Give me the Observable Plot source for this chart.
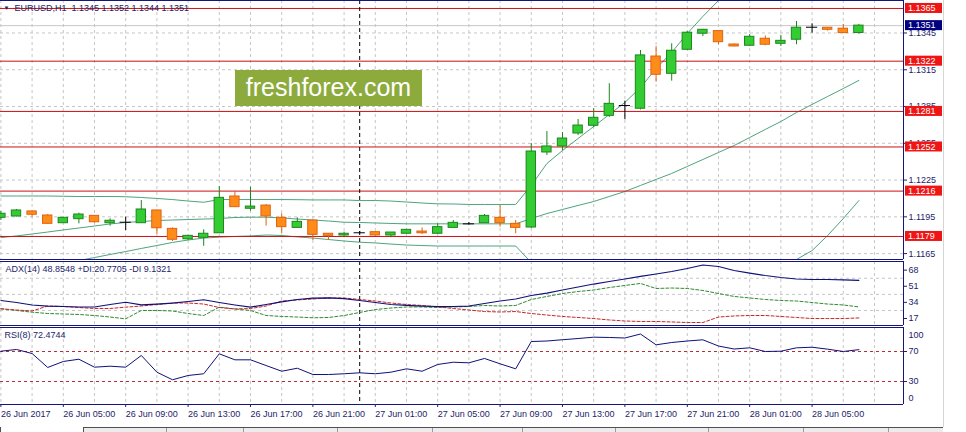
<!DOCTYPE html>
<html><head><meta charset="utf-8">
<script src="https://cdn.jsdelivr.net/npm/d3@7"></script>
<script src="https://cdn.jsdelivr.net/npm/@observablehq/plot@0.6"></script>
<style>
html,body{margin:0;padding:0;background:#fff;}
#wrap{position:relative;width:966px;height:432px;overflow:hidden;background:#fff;font-family:"Liberation Sans",Arial,sans-serif;}
.pane{position:absolute;left:0;width:966px;}
#logo{position:absolute;left:235px;top:70px;width:187px;height:36px;background:#8cab3c;color:#fff;font-size:25px;line-height:35px;text-align:center;font-family:"Liberation Sans",Arial,sans-serif;z-index:5;}
#vsep{position:absolute;left:943px;top:0;width:1px;height:427px;background:#d6d6d6;}
#tabs{position:absolute;left:83px;top:427px;width:860px;height:5px;border-top:1px solid #505050;background:#ececec;}
#tab0{position:absolute;left:0;top:427px;width:82px;height:6px;background:#fff;border-left:1px solid #505050;border-right:1px solid #505050;}
.tsep{position:absolute;top:428px;width:1px;height:4px;background:#9a9a9a;}
</style></head>
<body><div id="wrap"></div>
<script>
// ---- data ----
const xTickLabels = ["26 Jun 2017","26 Jun 05:00","26 Jun 09:00","26 Jun 13:00","26 Jun 17:00","26 Jun 21:00","27 Jun 01:00","27 Jun 05:00","27 Jun 09:00","27 Jun 13:00","27 Jun 17:00","27 Jun 21:00","28 Jun 01:00","28 Jun 05:00"];
const xTickIdx = [0,4,8,12,16,20,24,28,32,36,40,44,48,52];
const gridIdx = [0,2,4,6,8,10,12,14,16,18,20,22,24,26,28,30,32,34,36,38,40,42,44,46,48,50,52,54,56];
const priceTicks = [1.1345,1.1315,1.1285,1.1255,1.1225,1.1195,1.1165];
const levels = [1.1365,1.1322,1.1281,1.1252,1.1216,1.1179];
const bid = 1.1351;
const markerIdx = [23];

const open = [1.11942,1.11953,1.11994,1.11961,1.11898,1.11931,1.11958,1.11898,1.11906,1.11898,
1.12002,1.11852,1.11767,1.11779,1.11816,1.12116,1.12016,1.12042,1.11942,1.11860,
1.11920,1.11812,1.11798,1.11820,1.11825,1.11798,1.11812,1.11830,1.11812,1.11860,
1.11893,1.11898,1.11942,1.11893,1.11863,1.12475,1.12524,1.12630,1.12693,1.12774,
1.12858,1.12832,1.13258,1.13117,1.13313,1.13444,1.13465,1.13356,1.13346,1.13403,
1.13362,1.13395,1.13497,1.13493,1.13485,1.1345];
const high = [1.11994,1.12010,1.11998,1.11969,1.11945,1.11980,1.11961,1.11934,1.11947,1.12083,
1.12006,1.11860,1.11798,1.11844,1.12198,1.12157,1.12192,1.12051,1.11975,1.11942,
1.11924,1.11814,1.11825,1.11830,1.11827,1.11822,1.11847,1.11860,1.11893,1.11920,
1.11904,1.11969,1.12042,1.11920,1.12548,1.12646,1.12638,1.12744,1.12832,1.13036,
1.12894,1.13307,1.13340,1.13362,1.13462,1.13479,1.13470,1.13360,1.13438,1.13426,
1.13430,1.13544,1.13525,1.13495,1.13519,1.1352];
const low = [1.11920,1.11949,1.11947,1.11892,1.11896,1.11893,1.11898,1.11874,1.11838,1.11896,
1.11806,1.11749,1.11757,1.11710,1.11814,1.12026,1.11996,1.11874,1.11812,1.11859,
1.11757,1.11757,1.11779,1.11810,1.11794,1.11779,1.11810,1.11806,1.11806,1.11859,
1.11883,1.11896,1.11866,1.11812,1.11855,1.12450,1.12491,1.12614,1.12679,1.12761,
1.12742,1.12822,1.13049,1.13057,1.13307,1.13421,1.13354,1.13336,1.13340,1.13346,
1.13340,1.13354,1.13449,1.13465,1.13446,1.1344];
const close = [1.11975,1.12002,1.11967,1.11893,1.11942,1.11969,1.11906,1.11918,1.11906,1.12010,
1.11857,1.11763,1.11795,1.11812,1.12105,1.12029,1.12034,1.11953,1.11866,1.11909,
1.11803,1.11795,1.11812,1.11820,1.11798,1.11822,1.11844,1.11816,1.11866,1.11901,
1.11893,1.11958,1.11898,1.11860,1.12483,1.12524,1.12589,1.12695,1.12758,1.12872,
1.12858,1.13267,1.13109,1.13305,1.13452,1.13476,1.13375,1.13340,1.13419,1.13354,
1.13386,1.13493,1.13497,1.13476,1.13449,1.1351];

const bbUpper = [1.12120,1.12120,1.12120,1.12120,1.12118,1.12116,1.12116,1.12116,1.12114,1.12108,
1.12100,1.12091,1.12079,1.12069,1.12091,1.12091,1.12091,1.12091,1.12091,1.12090,
1.12088,1.12088,1.12088,1.12083,1.12083,1.12079,1.12071,1.12063,1.12056,1.12055,
1.12051,1.12051,1.12051,1.12051,1.12206,1.12385,1.12491,1.12589,1.12687,1.12785,
1.12883,1.13005,1.13160,1.13291,1.13446,1.13585,1.13715,1.13838,1.13919,1.13976,
1.14009,1.14025,1.14025,1.14017,1.14001,1.13976];
const bbMiddle = [1.11781,1.11794,1.11810,1.11826,1.11843,1.11859,1.11875,1.11892,1.11904,1.11912,
1.11920,1.11924,1.11928,1.11932,1.11936,1.11945,1.11947,1.11947,1.11941,1.11932,
1.11924,1.11916,1.11906,1.11904,1.11900,1.11896,1.11893,1.11893,1.11893,1.11893,
1.11893,1.11893,1.11893,1.11893,1.11936,1.11977,1.12010,1.12043,1.12075,1.12116,
1.12157,1.12206,1.12255,1.12304,1.12361,1.12418,1.12475,1.12532,1.12597,1.12663,
1.12728,1.12801,1.12867,1.12932,1.12997,1.13063];
const bbLower = [1.11431,1.11463,1.11496,1.11528,1.11561,1.11594,1.11618,1.11643,1.11667,1.11692,
1.11716,1.11741,1.11761,1.11777,1.11784,1.11790,1.11794,1.11802,1.11798,1.11786,
1.11777,1.11765,1.11753,1.11743,1.11737,1.11728,1.11720,1.11716,1.11712,1.11712,
1.11712,1.11712,1.11712,1.11712,1.11577,1.11471,1.11349,1.11267,1.11186,1.11120,
1.11088,1.11063,1.11088,1.11120,1.11169,1.11227,1.11284,1.11349,1.11406,1.11463,
1.11528,1.11602,1.11675,1.11798,1.11936,1.12083];

const adx = [27.5,25.4,22.8,21.7,21.2,20.7,20.7,23.3,25.7,23.0,
23.8,24.7,26.5,28.3,25.4,22.8,20.5,23.3,26.0,28.6,
30.0,30.2,29.6,27.5,25.4,23.3,22.3,21.7,21.2,21.2,
21.7,24.4,27.0,29.1,32.8,35.4,38.6,41.8,44.9,47.6,
50.2,52.9,55.5,58.1,61.3,65.0,63.4,59.2,56.5,53.9,
51.8,50.2,49.7,49.7,49.2,48.8548];
const plusDI = [18.8,17.0,15.2,13.8,13.3,12.8,11.7,10.1,8.2,17.0,
17.0,16.5,13.8,11.7,20.5,18.6,17.0,11.7,10.7,10.1,
9.3,9.6,11.7,14.9,18.0,19.6,20.7,20.7,20.1,20.7,
21.2,22.3,21.7,22.3,28.6,31.8,34.9,37.0,38.6,41.2,
43.4,45.5,40.2,40.7,40.2,38.1,34.9,31.8,30.2,28.6,
27.5,27.0,25.4,23.8,22.8,20.7705];
const minusDI = [18.8,17.5,16.5,21.7,21.2,20.1,19.1,19.1,20.5,21.7,
23.3,24.9,24.9,23.8,20.1,18.6,19.1,21.7,27.0,28.1,
29.1,30.2,30.2,28.6,27.0,24.9,23.3,22.3,20.7,19.1,
17.5,15.9,15.4,15.9,13.8,12.2,10.7,9.6,8.5,7.0,
5.9,5.4,5.4,4.9,4.3,4.3,10.1,11.2,11.7,11.7,
10.7,9.6,8.5,8.5,8.5,9.1321];
const adxTicks = [68,51,34,17];
const adxGrid = [51,34,17];

const rsi = [70.4,72.7,67.3,48.7,56.7,59.7,49.1,50.4,49.1,64.7,
42.4,32.3,38.0,40.3,66.9,58.9,58.9,51.3,43.7,47.7,
39.3,39.3,40.3,41.6,40.3,42.4,46.9,43.7,52.7,55.7,
54.9,60.7,53.6,46.9,83.3,84.0,85.7,87.3,89.1,88.7,
88.0,93.3,78.9,82.0,84.0,85.6,77.3,73.3,74.9,70.0,
70.4,74.9,75.7,73.1,70.0,72.4744];
const rsiLevels = [70,30];
const rsiEdgeLabels = [100,0];

const mainHeader = "EURUSD,H1  1.1345 1.1352 1.1344 1.1351";
const adxHeader = "ADX(14) 48.8548 +DI:20.7705 -DI 9.1321";
const rsiHeader = "RSI(8) 72.4744";
const tabSeps = [166,243,337,432,522,615,708,803,888];

// ---- styling ----
const FRAME = "#14147a", TXT = "#1d1d6b", GRID = "#c6c6c6", BB = "#4fa37c";
const LEVEL = "#cc1010", LEVELBOX = "#f01515";
const BULL = "#33cc33", BULL_S = "#1d861d", BEAR = "#ff8c1a", BEAR_S = "#df630e";
const xDomain = [-0.026, 57.86];
const priceDomain = [1.11602, 1.13715];
const adxDomain = [1.16, 68.67];
const rsiDomain = [-0.67, 102];

const candles = open.map((o, i) => ({i, open: o, high: high[i], low: low[i], close: close[i]}));
const bull = candles.filter(d => d.close > d.open);
const bear = candles.filter(d => d.close < d.open);
const doji = candles.filter(d => d.close === d.open);
const bands = bbMiddle.map((m, i) => ({i, upper: bbUpper[i], middle: m, lower: bbLower[i]}));
const adxRows = adx.map((v, i) => ({i, adx: v, plus: plusDI[i], minus: minusDI[i]}));
const rsiRows = rsi.map((v, i) => ({i, rsi: v}));

const font = '"Liberation Sans", Arial, sans-serif';
const common = {
  width: 966, marginLeft: 0, marginRight: 63,
  x: {domain: xDomain, axis: null, label: null},
  style: {fontFamily: font, fontSize: "9px", color: TXT, background: "transparent", overflow: "visible"}
};
const gridV = Plot.ruleX(gridIdx, {stroke: GRID, strokeDasharray: "3,3"});
const marker = Plot.ruleX(markerIdx, {stroke: "#000", strokeDasharray: "4,3"});

const wrap = document.getElementById("wrap");
function place(el, top) {
  const d = document.createElement("div");
  d.className = "pane"; d.style.top = top + "px";
  d.appendChild(el); wrap.appendChild(d);
}

// ---- main pane ----
const main = Plot.plot({
  ...common, height: 260, marginTop: 0, marginBottom: 1,
  y: {domain: priceDomain, axis: null, label: null},
  marks: [
    gridV,
    Plot.ruleY(priceTicks, {stroke: GRID, strokeDasharray: "3,3"}),
    Plot.ruleY([bid], {stroke: "#c8c8c8"}),
    Plot.line(bands, {x: "i", y: "upper", stroke: BB, strokeWidth: 1, clip: true}),
    Plot.line(bands, {x: "i", y: "middle", stroke: BB, strokeWidth: 1, clip: true}),
    Plot.line(bands, {x: "i", y: "lower", stroke: BB, strokeWidth: 1, clip: true}),
    Plot.ruleY(levels, {stroke: LEVEL}),
    marker,
    Plot.ruleX(bull, {x: "i", y1: "low", y2: "high", stroke: BULL_S}),
    Plot.ruleX(bear, {x: "i", y1: "low", y2: "high", stroke: BEAR_S}),
    Plot.rect(bull, {x1: d => d.i - 0.3, x2: d => d.i + 0.3, y1: "open", y2: "close", fill: BULL, stroke: BULL_S}),
    Plot.rect(bear, {x1: d => d.i - 0.3, x2: d => d.i + 0.3, y1: "open", y2: "close", fill: BEAR, stroke: BEAR_S}),
    Plot.ruleX(doji, {x: "i", y1: "low", y2: "high", stroke: "#000"}),
    Plot.ruleY(doji, {y: "open", x1: d => d.i - 0.36, x2: d => d.i + 0.36, stroke: "#000"}),
    Plot.ruleX([xDomain[1]], {stroke: FRAME}),
    Plot.ruleY([priceDomain[1]], {stroke: FRAME}),
    Plot.ruleY([priceDomain[0]], {stroke: FRAME}),
    Plot.axisY(priceTicks, {anchor: "right", tickSize: 3, tickPadding: 2, tickFormat: d => d.toFixed(4), fontSize: 9}),
    Plot.text(["▼"], {frameAnchor: "top-left", dx: 3, dy: 5, fontSize: 6, fill: TXT}),
    Plot.text([mainHeader], {frameAnchor: "top-left", dx: 14, dy: 4, fill: TXT, fontSize: 9})
  ]
});
{
  const ys = main.scale("y"), xs = main.scale("x");
  const x0 = xs.apply(xDomain[1]) + 2;
  const g = d3.select(main).append("g").attr("text-anchor", "start");
  const boxes = levels.map(v => ({v, fill: LEVELBOX})).concat([{v: bid, fill: "#000080"}]);
  for (const b of boxes) {
    const y = ys.apply(b.v);
    g.append("rect").attr("x", x0).attr("y", y - 5).attr("width", 37).attr("height", 10).attr("fill", b.fill);
    g.append("text").attr("x", x0 + 3).attr("y", y).attr("dy", "0.35em").attr("text-anchor", "start")
      .attr("fill", "#fff").attr("font-size", 9).attr("font-family", font).text(b.v.toFixed(4));
  }
}
place(main, 0);

// ---- ADX pane ----
const adxPlot = Plot.plot({
  ...common, height: 66, marginTop: 1, marginBottom: 1,
  y: {domain: adxDomain, axis: null, label: null},
  marks: [
    gridV,
    Plot.ruleY(adxGrid, {stroke: GRID, strokeDasharray: "3,3"}),
    marker,
    Plot.line(adxRows, {x: "i", y: "plus", stroke: "#2e8b2e", strokeWidth: 1, strokeDasharray: "3,2"}),
    Plot.line(adxRows, {x: "i", y: "minus", stroke: "#c62828", strokeWidth: 1, strokeDasharray: "3,2"}),
    Plot.line(adxRows, {x: "i", y: "adx", stroke: "#10107a", strokeWidth: 1.2}),
    Plot.ruleX([xDomain[1]], {stroke: FRAME}),
    Plot.ruleY([adxDomain[1]], {stroke: FRAME}),
    Plot.ruleY([adxDomain[0]], {stroke: FRAME}),
    Plot.axisY(adxTicks, {anchor: "right", tickSize: 3, tickPadding: 2, dy: 8, fontSize: 9}),
    Plot.text([adxHeader], {frameAnchor: "top-left", dx: 5, dy: 4, fill: TXT, fontSize: 9})
  ]
});
place(adxPlot, 260);

// ---- RSI pane ----
const rsiPlot = Plot.plot({
  ...common, height: 106, marginTop: 1, marginBottom: 28,
  y: {domain: rsiDomain, axis: null, label: null},
  marks: [
    gridV,
    Plot.ruleY(rsiLevels, {stroke: "#b03030", strokeDasharray: "3,3"}),
    marker,
    Plot.line(rsiRows, {x: "i", y: "rsi", stroke: "#10107a", strokeWidth: 1}),
    Plot.ruleX([xDomain[1]], {stroke: FRAME}),
    Plot.ruleY([rsiDomain[1]], {stroke: FRAME}),
    Plot.ruleY([rsiDomain[0]], {stroke: FRAME}),
    Plot.axisY(rsiLevels, {anchor: "right", tickSize: 3, tickPadding: 2, fontSize: 9}),
    Plot.axisY([rsiEdgeLabels[0]], {anchor: "right", tickSize: 0, tickPadding: 5, dy: 6, fontSize: 9}),
    Plot.axisY([rsiEdgeLabels[1]], {anchor: "right", tickSize: 0, tickPadding: 5, dy: -6, fontSize: 9}),
    Plot.axisX(xTickIdx, {anchor: "bottom", tickSize: 3, tickPadding: 3, textAnchor: "start", fontSize: 9,
      tickFormat: d => xTickLabels[xTickIdx.indexOf(d)]}),
    Plot.text([rsiHeader], {frameAnchor: "top-left", dx: 4, dy: 4, fill: TXT, fontSize: 9})
  ]
});
place(rsiPlot, 326);

// ---- decorations ----
const logo = document.createElement("div"); logo.id = "logo"; logo.textContent = "freshforex.com"; wrap.appendChild(logo);
const vsep = document.createElement("div"); vsep.id = "vsep"; wrap.appendChild(vsep);
const tabs = document.createElement("div"); tabs.id = "tabs"; wrap.appendChild(tabs);
const tab0 = document.createElement("div"); tab0.id = "tab0"; wrap.appendChild(tab0);
for (const x of tabSeps) { const s = document.createElement("div"); s.className = "tsep"; s.style.left = x + "px"; wrap.appendChild(s); }
</script>
</body></html>
